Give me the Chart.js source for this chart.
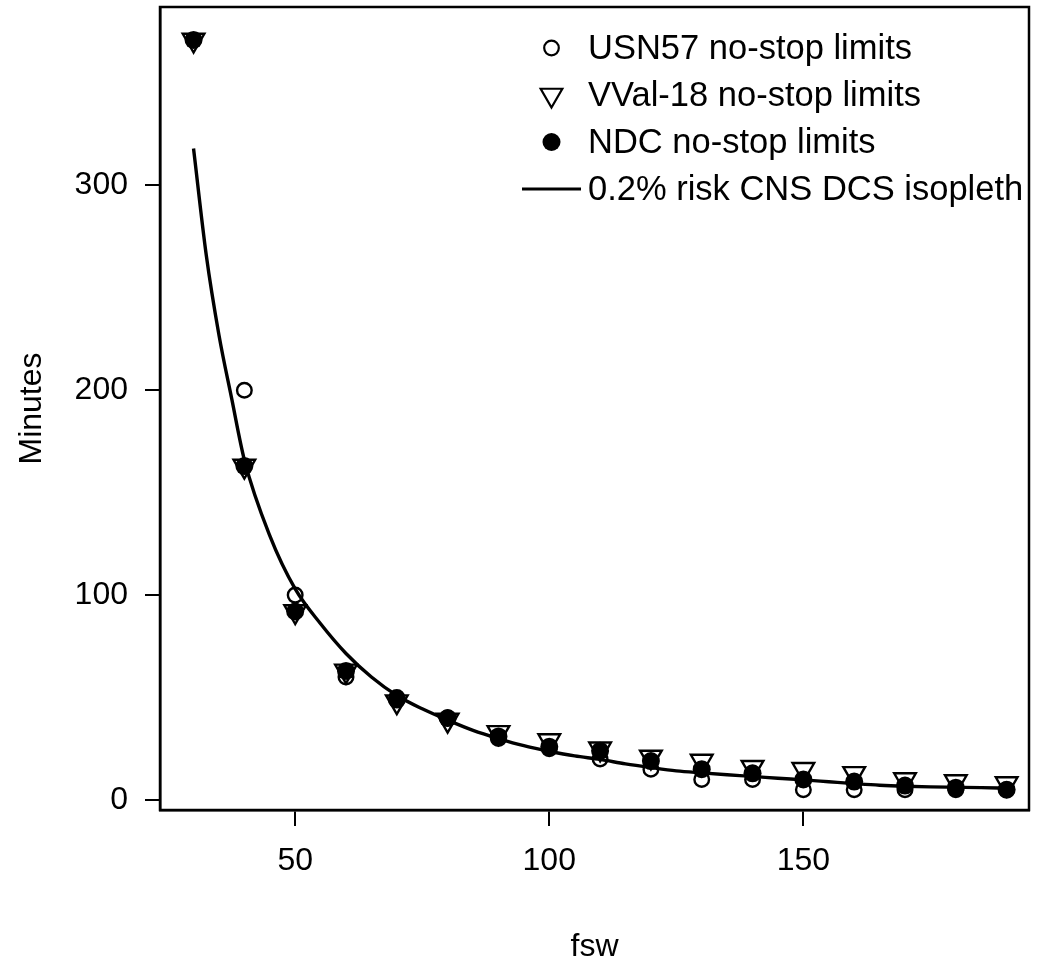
<!DOCTYPE html>
<html>
<head>
<meta charset="utf-8">
<script src="https://cdn.jsdelivr.net/npm/chart.js@4/dist/chart.umd.min.js"></script>
<style>
html,body{margin:0;padding:0;background:#fff;}
#wrap{width:1038px;height:979px;}
canvas{display:block;}
</style>
</head>
<body>
<div id="wrap"><canvas id="c" width="1038" height="979"></canvas></div>
<script>
// ---- data ----
const depthFsw       = [30, 40, 50, 60, 70, 80, 90, 100, 110, 120, 130, 140, 150, 160, 170, 180, 190];
const usn57Minutes   = [null, 200, 100, 60, 50, 40, 30, 25, 20, 15, 10, 10, 5, 5, 5, 5, 5];
const vval18Minutes  = [371, 163, 92, 63, 48, 39, 33, 29, 25, 21, 19, 16, 15, 13, 10, 9, 8];
const ndcMinutes     = [371, 163, 92, 63, 49, 40, 31, 26, 24, 19, 15, 13, 10, 9, 7, 6, 5];
const isoplethFsw     = [30, 32.5, 35, 37.5, 40, 45, 50, 55, 60, 65, 70, 75, 80, 85, 90, 95, 100, 105, 110, 115, 120, 125, 130, 135, 140, 145, 150, 155, 160, 165, 170, 175, 180, 185, 190];
const isoplethMinutes = [318, 266, 227, 196, 166, 129, 103, 86, 71.5, 60, 51, 44.5, 39, 34, 30, 26.5, 23.8, 21.5, 19.8, 17.6, 15.8, 14.2, 13.2, 12.3, 11.5, 10.6, 9.8, 8.9, 8.0, 7.2, 6.7, 6.4, 6.2, 6.0, 5.7];
const seriesLabels = ['USN57 no-stop limits', 'VVal-18 no-stop limits', 'NDC no-stop limits', '0.2% risk CNS DCS isopleth'];
const xTickValues = [50, 100, 150];
const yTickValues = [0, 100, 200, 300];
const xTitle = 'fsw';
const yTitle = 'Minutes';

const FONT = "'Liberation Sans', Arial, Helvetica, sans-serif";

function pts(xs, ys) {
  const out = [];
  xs.forEach((x, i) => { if (ys[i] !== null && ys[i] !== undefined) out.push({x: x, y: ys[i]}); });
  return out;
}

// frame box (R box())
const boxPlugin = {
  id: 'boxPlugin',
  afterDraw(chart) {
    const a = chart.chartArea, c = chart.ctx;
    c.save();
    c.strokeStyle = '#000';
    c.lineWidth = 2.5;
    c.strokeRect(a.left, a.top, a.right - a.left, a.bottom - a.top);
    c.restore();
  }
};

// legend drawn inside the plot (no box)
const legendPlugin = {
  id: 'insideLegend',
  afterDraw(chart) {
    const c = chart.ctx;
    const symX = 551.5, textX = 588;
    const rows = [48, 95, 142, 189];
    const ds = chart.data.datasets;
    c.save();
    c.fillStyle = '#000';
    c.strokeStyle = '#000';
    c.font = '34.5px ' + FONT;
    c.textBaseline = 'middle';
    c.textAlign = 'left';
    ds.forEach((d, i) => {
      const y = rows[i];
      c.beginPath();
      if (i === 0) {
        c.lineWidth = 2.2;
        c.arc(symX, y, 7.3, 0, Math.PI * 2);
        c.stroke();
      } else if (i === 1) {
        const r = 12.5;
        c.lineWidth = 2.2;
        c.moveTo(symX, y + r);
        c.lineTo(symX + r * Math.sqrt(3) / 2, y - r / 2);
        c.lineTo(symX - r * Math.sqrt(3) / 2, y - r / 2);
        c.closePath();
        c.stroke();
      } else if (i === 2) {
        c.arc(symX, y, 9, 0, Math.PI * 2);
        c.fill();
      } else {
        c.lineWidth = 3;
        c.moveTo(522, y);
        c.lineTo(581, y);
        c.stroke();
      }
      c.fillText(d.label, textX, y + 1);
    });
    c.restore();
  }
};

const ctx = document.getElementById('c').getContext('2d');
new Chart(ctx, {
  type: 'scatter',
  data: {
    datasets: [
      {
        label: seriesLabels[0],
        data: pts(depthFsw, usn57Minutes),
        pointStyle: 'circle',
        pointRadius: 7.3,
        borderWidth: 2.4,
        borderColor: '#000',
        backgroundColor: 'rgba(0,0,0,0)',
        showLine: false,
        order: 4
      },
      {
        label: seriesLabels[1],
        data: pts(depthFsw, vval18Minutes),
        pointStyle: 'triangle',
        rotation: 180,
        pointRotation: 180,
        pointRadius: 12.5,
        borderWidth: 2.4,
        borderColor: '#000',
        backgroundColor: 'rgba(0,0,0,0)',
        showLine: false,
        order: 3
      },
      {
        label: seriesLabels[2],
        data: pts(depthFsw, ndcMinutes),
        pointStyle: 'circle',
        pointRadius: 9,
        borderWidth: 0,
        borderColor: '#000',
        backgroundColor: '#000',
        showLine: false,
        order: 2
      },
      {
        type: 'line',
        label: seriesLabels[3],
        data: pts(isoplethFsw, isoplethMinutes),
        borderColor: '#000',
        borderWidth: 3.4,
        pointRadius: 0,
        fill: false,
        showLine: true,
        cubicInterpolationMode: 'monotone',
        order: 1
      }
    ]
  },
  options: {
    responsive: false,
    animation: false,
    devicePixelRatio: 1,
    events: [],
    layout: { autoPadding: false, padding: { top: 7, right: 9, left: 0, bottom: 0 } },
    plugins: {
      legend: { display: false },
      tooltip: { enabled: false },
      title: { display: false }
    },
    scales: {
      x: {
        type: 'linear',
        min: 23.4,
        max: 194.4,
        afterBuildTicks: s => { s.ticks = xTickValues.map(v => ({ value: v })); },
        afterFit: s => { s.height = 169; s.paddingLeft = 0; s.paddingRight = 0; },
        grid: { drawOnChartArea: false, drawTicks: true, tickLength: 16, color: '#000', lineWidth: 2 },
        border: { display: true, color: '#000', width: 2.5 },
        ticks: { color: '#000', font: { family: FONT, size: 32 }, padding: 16, maxRotation: 0, autoSkip: false },
        title: { display: true, text: xTitle, color: '#000', font: { family: FONT, size: 32 }, padding: { top: 0, bottom: 13 } }
      },
      y: {
        type: 'linear',
        min: -4.9,
        max: 387.1,
        afterBuildTicks: s => { s.ticks = yTickValues.map(v => ({ value: v })); },
        afterFit: s => { s.width = 160; s.paddingTop = 0; s.paddingBottom = 0; },
        grid: { drawOnChartArea: false, drawTicks: true, tickLength: 15, color: '#000', lineWidth: 2 },
        border: { display: true, color: '#000', width: 2.5 },
        ticks: { color: '#000', font: { family: FONT, size: 32 }, padding: 17, autoSkip: false },
        title: { display: true, text: yTitle, color: '#000', font: { family: FONT, size: 32 }, padding: { top: 13, bottom: 0 } }
      }
    }
  },
  plugins: [boxPlugin, legendPlugin]
});
</script>
</body>
</html>
